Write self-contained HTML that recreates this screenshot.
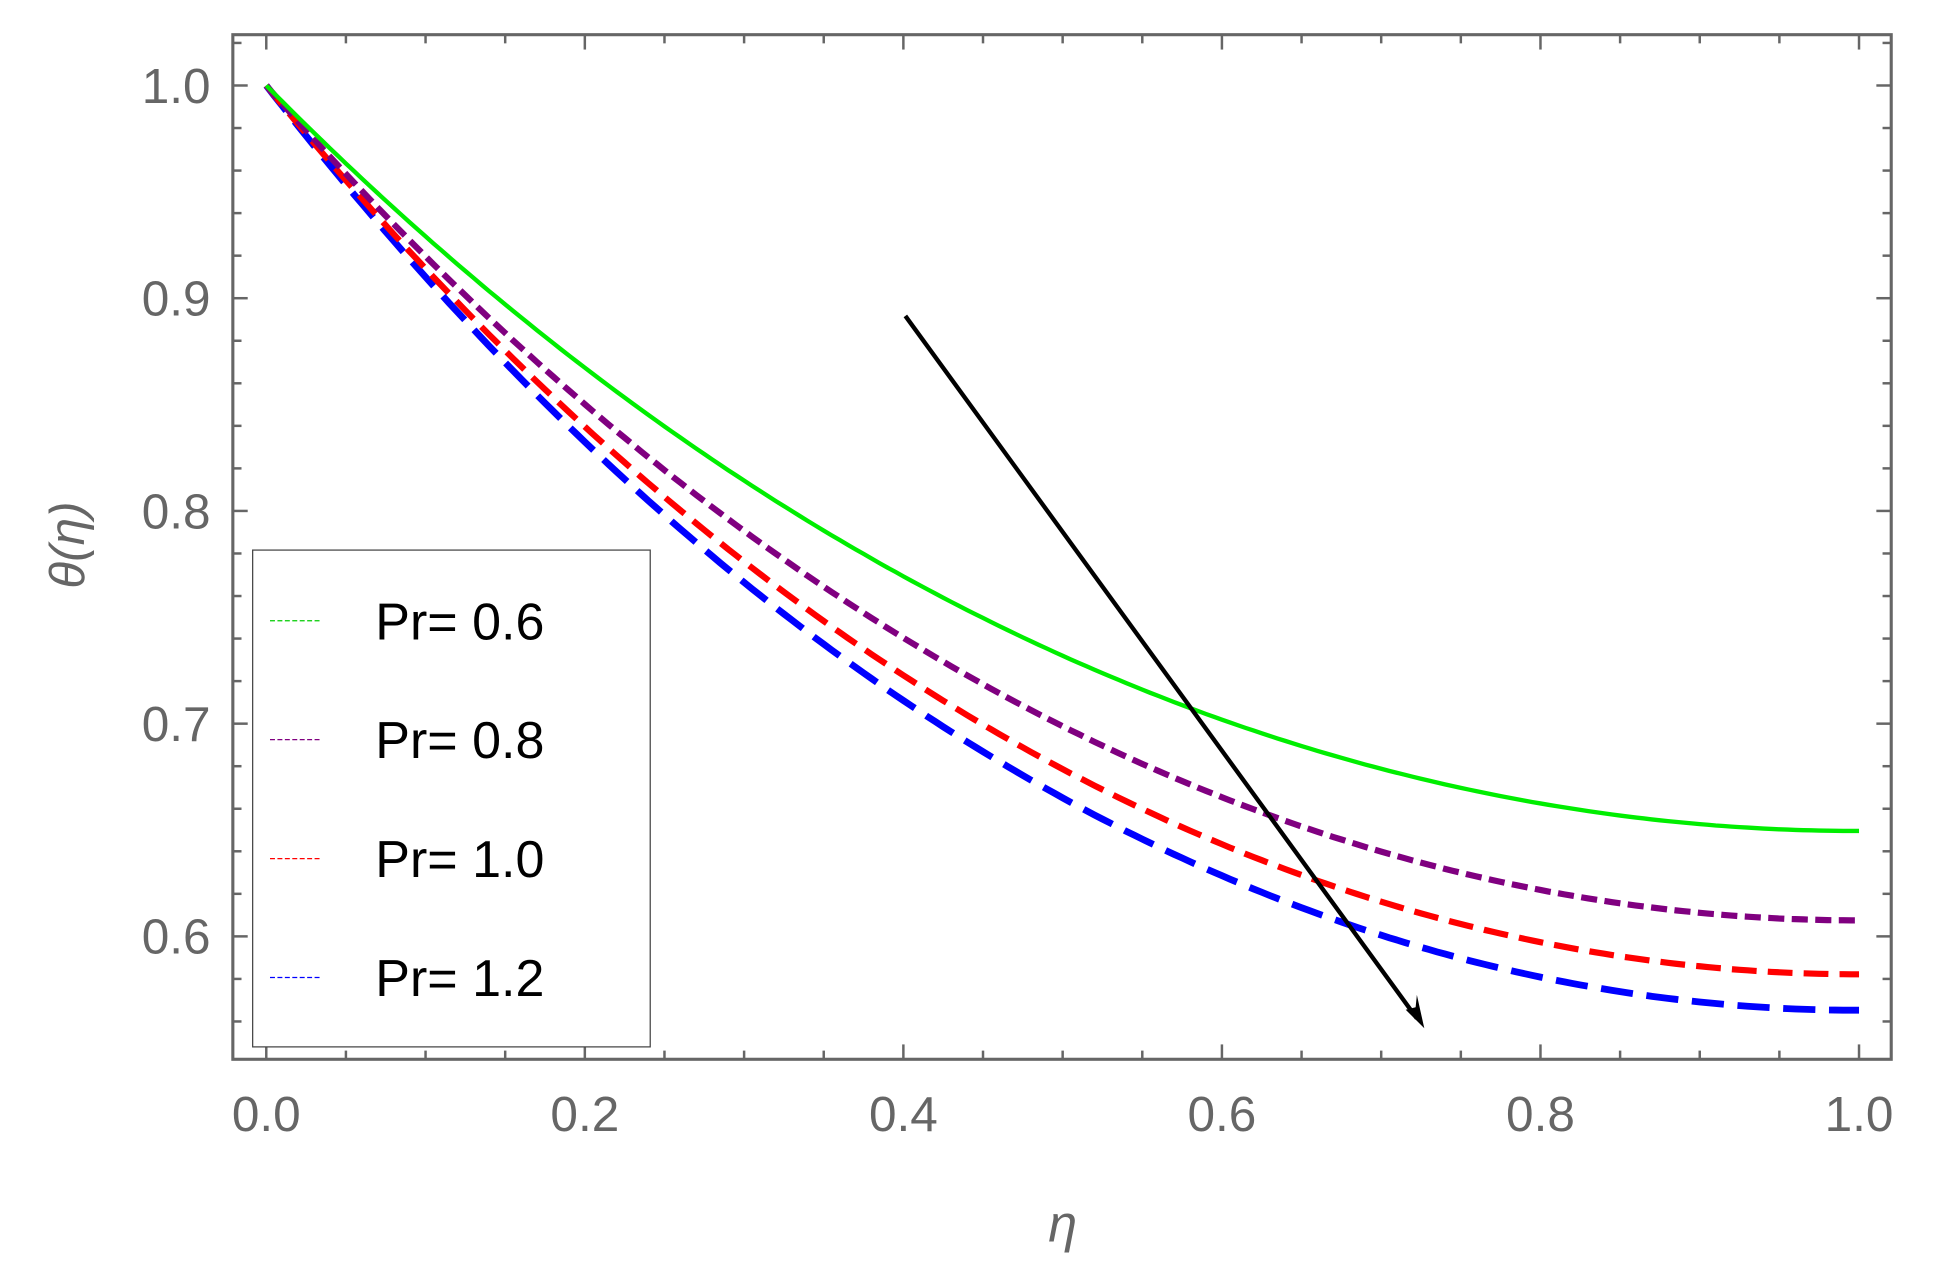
<!DOCTYPE html>
<html><head><meta charset="utf-8"><style>
html,body{margin:0;padding:0;background:#fff;}
svg{display:block;}
text{font-family:"Liberation Sans",sans-serif;}
</style></head><body>
<svg id="s" width="1942" height="1286" viewBox="0 0 1568 1038" preserveAspectRatio="none" xmlns="http://www.w3.org/2000/svg">
<rect x="0" y="0" width="1568" height="1038" fill="#fff"/>
<g id="g"></g>
<text x="858" y="1002" font-size="42" fill="#666" font-style="italic" text-anchor="middle" font-family="Liberation Serif">η</text>
<text transform="translate(68,440) rotate(-90)" font-size="40" fill="#666" font-style="italic" text-anchor="middle" font-family="Liberation Serif">θ(η)</text>
</svg>
<script>
var g=document.getElementById('g'),h='';
function X(e){return 215+e*1286;}
function Y(v){return 69+(1-v)*1717;}
var L=188,R=1527,T=28,B=855;
for(var i=0;i<=20;i++){var e=i*0.05,x=X(e),len=(i%4==0)?12:7;
 h+='<line x1="'+x+'" y1="'+B+'" x2="'+x+'" y2="'+(B-len)+'" stroke="#666" stroke-width="2"/>';
 h+='<line x1="'+x+'" y1="'+T+'" x2="'+x+'" y2="'+(T+len)+'" stroke="#666" stroke-width="2"/>';
 if(i%4==0)h+='<text x="'+x+'" y="913" font-size="40" fill="#666" text-anchor="middle">'+e.toFixed(1)+'</text>';}
for(var i=28;i<=51;i++){var v=i*0.02,y=Y(v);if(y>B||y<T)continue;var maj=(i%5==0),len=maj?12:7;
 h+='<line x1="'+L+'" y1="'+y+'" x2="'+(L+len)+'" y2="'+y+'" stroke="#666" stroke-width="2"/>';
 h+='<line x1="'+R+'" y1="'+y+'" x2="'+(R-len)+'" y2="'+y+'" stroke="#666" stroke-width="2"/>';
 if(maj)h+='<text x="170" y="'+(y+14)+'" font-size="40" fill="#666" text-anchor="end">'+v.toFixed(1)+'</text>';}
h+='<rect x="'+L+'" y="'+T+'" width="'+(R-L)+'" height="'+(B-T)+'" fill="none" stroke="#666" stroke-width="2.5"/>';
function cosh(a){return (Math.exp(a)+Math.exp(-a))/2;}
var C=[[0.997,'#00ee00','',3.5],[1.083,'#800080','13 6',5],[1.136,'#ff0000','20 9',5],[1.172,'#0000ff','26 11',5.5]];
for(var c=C.length-1;c>=0;c--){var k=C[c][0],d='';
 for(var j=0;j<=200;j++){var e=j/200,v=cosh(k*(1-e))/cosh(k);d+=(j?'L':'M')+X(e).toFixed(1)+' '+Y(v).toFixed(1);}
 h+='<path d="'+d+'" fill="none" stroke="'+C[c][1]+'" stroke-width="'+C[c][3]+'"'+(C[c][2]?' stroke-dasharray="'+C[c][2]+'"':'')+'/>';}
h+='<line x1="731" y1="255" x2="1144" y2="822" stroke="#000" stroke-width="3.5"/>';
h+='<path d="M1150 830 L1135 815 L1143 813 L1144 803 Z" fill="#000"/>';
h+='<rect x="204" y="444" width="321" height="401" fill="#fff" stroke="#444" stroke-width="1"/>';
var labs=['Pr= 0.6','Pr= 0.8','Pr= 1.0','Pr= 1.2'],cols=['#00cc00','#800080','#ff0000','#0000ff'];
for(var i=0;i<4;i++){var y=501+i*96;
 h+='<line x1="218" y1="'+y+'" x2="258" y2="'+y+'" stroke="'+cols[i]+'" stroke-width="1" stroke-dasharray="4 2"/>';
 h+='<text x="303" y="'+(y+15)+'" font-size="42" fill="#000">'+labs[i]+'</text>';}
g.innerHTML=h;
</script>
</body></html>
